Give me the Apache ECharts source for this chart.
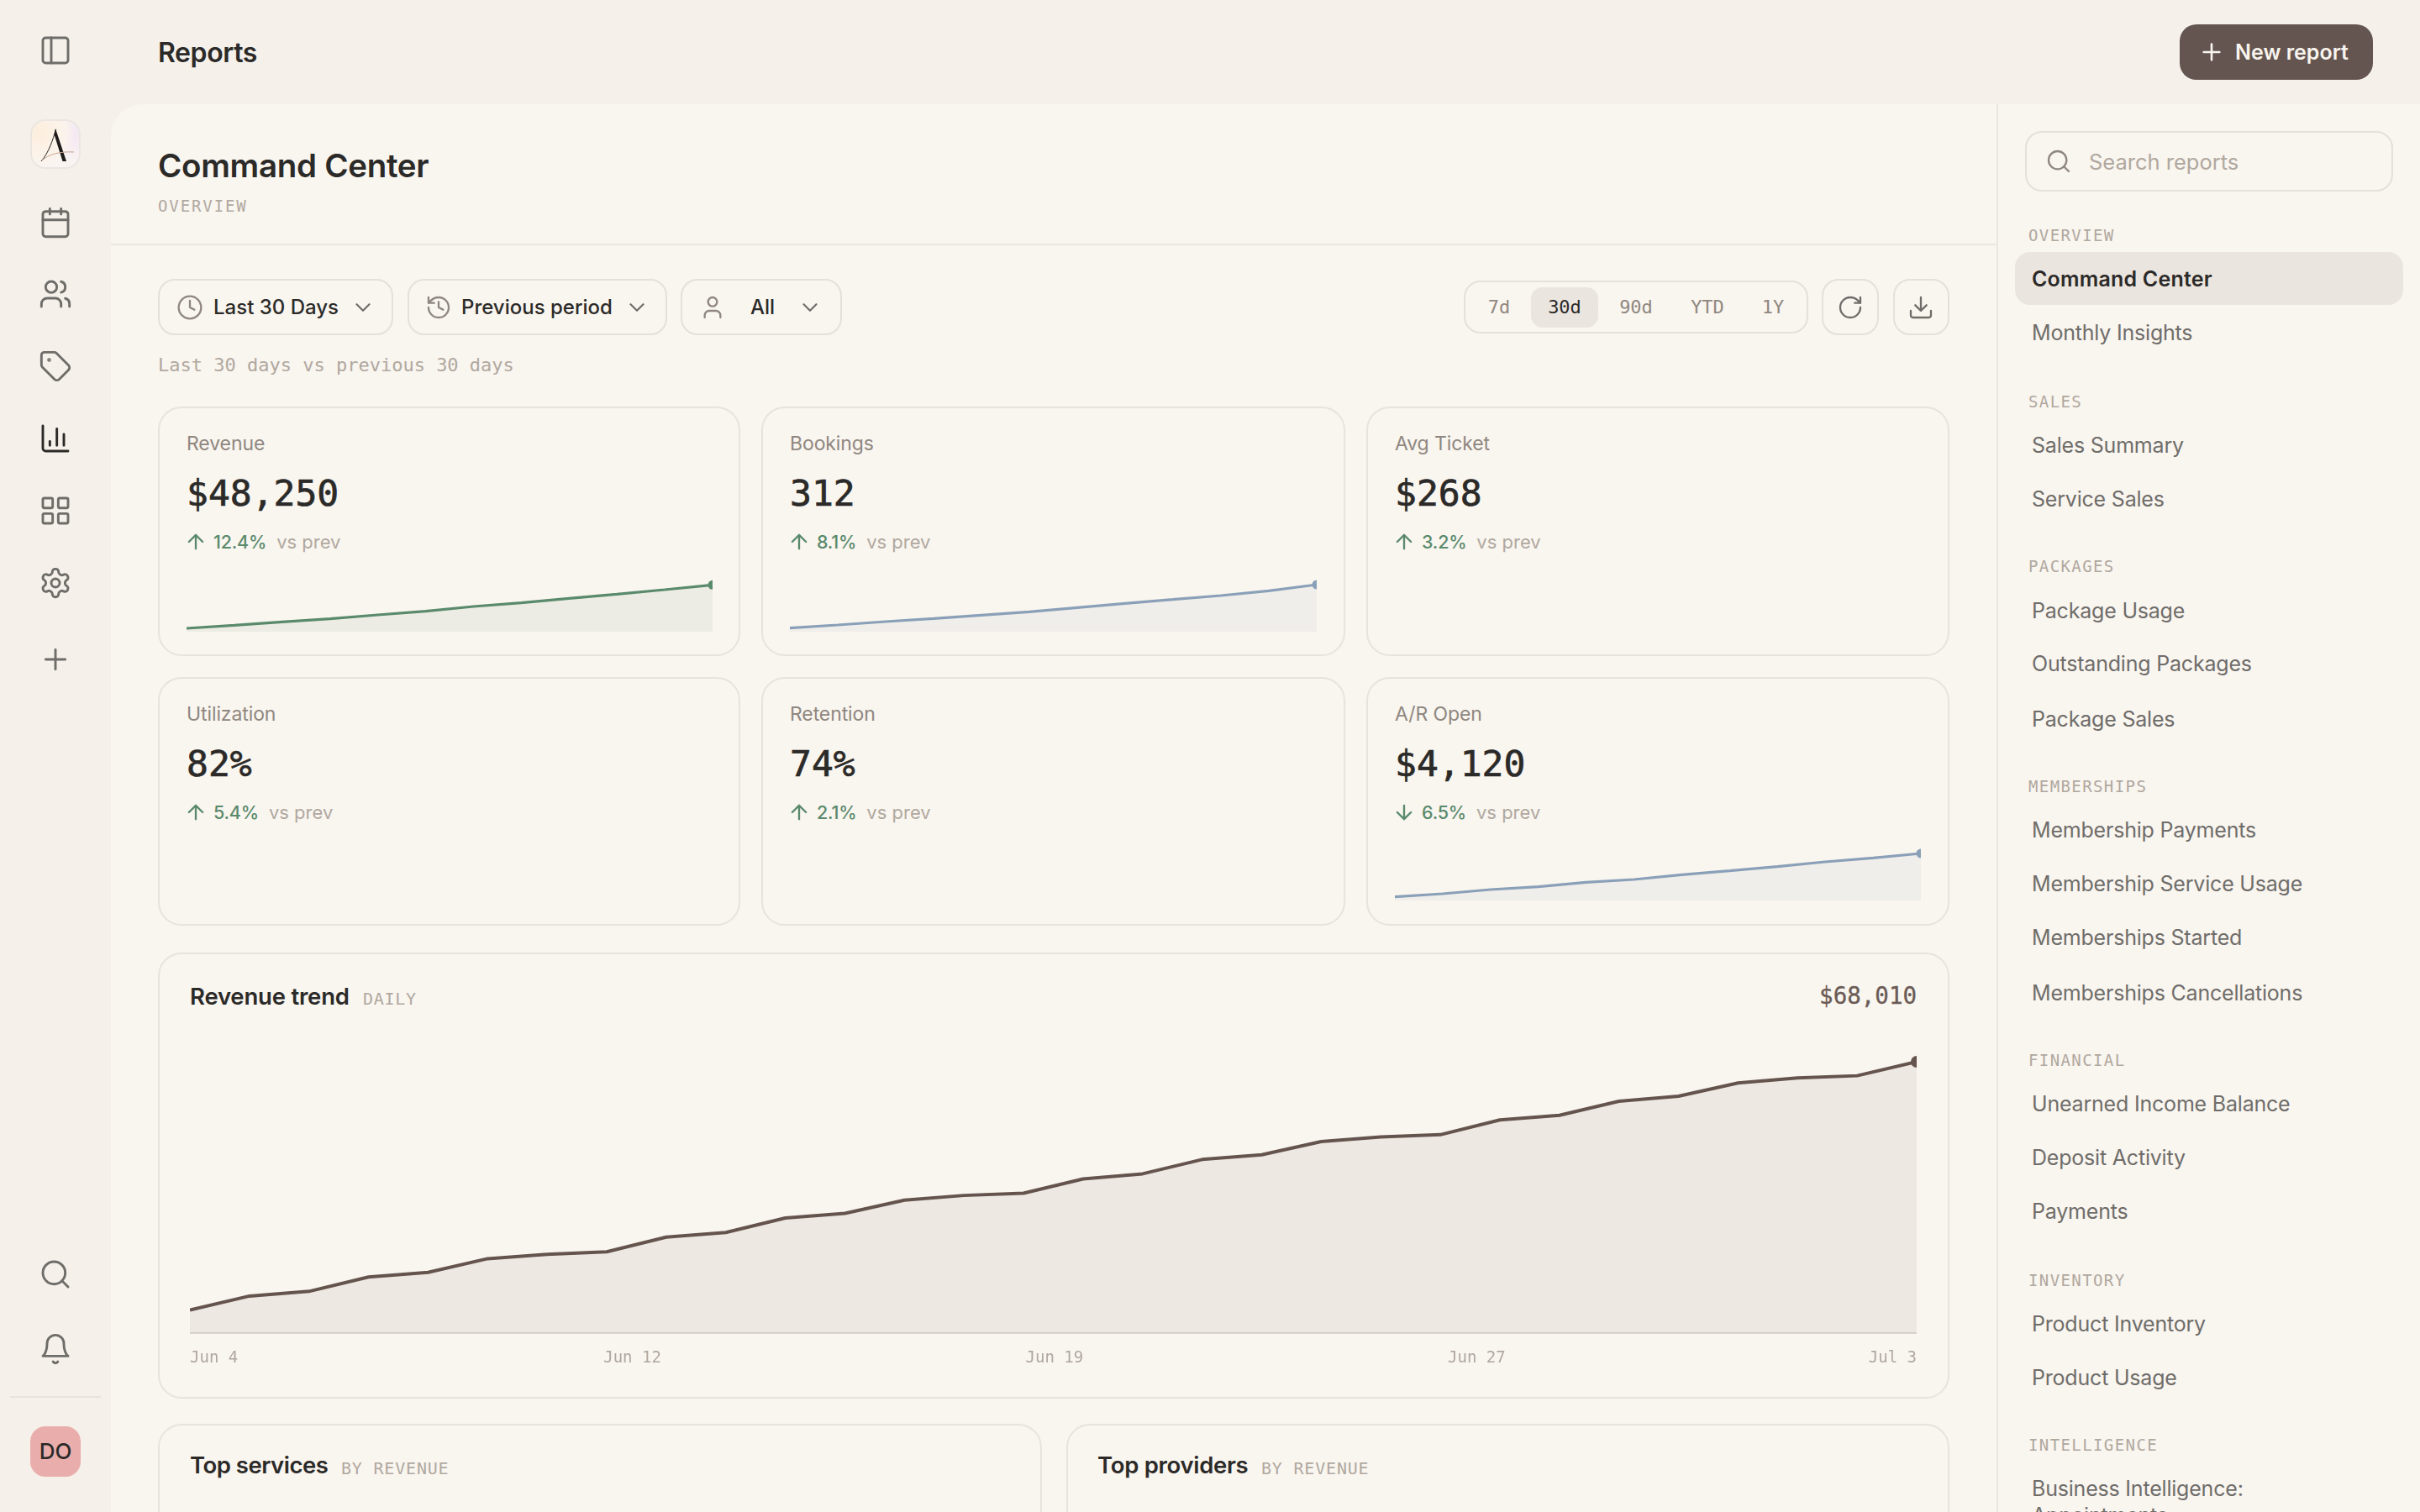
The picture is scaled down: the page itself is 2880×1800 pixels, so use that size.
<!DOCTYPE html>
<html>
<head>
<meta charset="utf-8">
<title>Reports</title>
<script src="https://cdn.jsdelivr.net/npm/echarts@6/dist/echarts.min.js"></script>
<style>
html,body{margin:0;padding:0;width:2880px;height:1800px;overflow:hidden;background:#f5f1ea;}
body{position:relative;font-family:Inter,"Noto Sans",sans-serif;color:#2b2a28;}
.box{position:absolute;box-sizing:border-box;}
.t{position:absolute;white-space:nowrap;line-height:1;transform:translateY(-50%);}
.m{font-family:"DejaVu Sans Mono",monospace;}
.i{position:absolute;fill:none;stroke:currentColor;stroke-linecap:round;stroke-linejoin:round;transform:translate(-50%,-50%);}
.card{border:2px solid #e8e3dc;border-radius:28px;}
.btn{border:2px solid #e5e0d9;border-radius:20px;}
.chart{position:absolute;}
</style>
</head>
<body>
<div class="box" id="panel" style="left:132px;top:124px;width:2748px;height:1676px;background:#f9f5ef;border-top-left-radius:38px;"></div>
<div class="box" style="left:132px;top:290px;width:2245px;height:2px;background:#ebe6df;"></div>
<div class="box" style="left:2376px;top:124px;width:2px;height:1676px;background:#ebe6df;"></div>
<div class="box" style="left:12px;top:1662px;width:108px;height:2px;background:#e8e3dc;"></div>
<div class="box" style="left:36px;top:142px;width:60px;height:59px;border-radius:18px;border:2px solid #ebe6e2;background:radial-gradient(circle at 15% 25%,#fdeedd 0,#fbf4ec 50%,transparent 70%),radial-gradient(circle at 85% 25%,#f3e6f3 0,#f9f3f2 55%);"></div>
<svg class="box" style="left:36px;top:142px;width:60px;height:59px;" viewBox="0 0 60 59">
  <path d="M13 50 C22 40 27 24 30.5 12" fill="none" stroke="#2a2624" stroke-width="1"/>
  <path d="M30 11 L43 50 L38.5 50 L28.5 18 Z" fill="#1f1b1a"/>
  <path d="M14 49 C22 42 34 38 52 39" fill="none" stroke="#c9a48e" stroke-width="1"/>
</svg>
<div class="box" style="left:36px;top:1698px;width:60px;height:60px;border-radius:18px;background:#e9aeab;"></div>
<div class="box" style="left:2594px;top:29px;width:230px;height:66px;border-radius:20px;background:#655550;"></div>
<div class="box" style="left:2410px;top:156px;width:438px;height:72px;border-radius:20px;border:2px solid #e5e0d9;"></div>
<div class="box" style="left:2398px;top:300px;width:462px;height:63px;border-radius:18px;background:#ebe5df;"></div>
<div class="box btn" style="left:188px;top:332px;width:280px;height:67px;"></div>
<div class="box btn" style="left:485px;top:332px;width:309px;height:67px;"></div>
<div class="box btn" style="left:810px;top:332px;width:192px;height:67px;"></div>
<div class="box btn" style="left:1742px;top:334px;width:410px;height:63px;"></div>
<div class="box" style="left:1822px;top:342px;width:80px;height:48px;border-radius:14px;background:#ebe5df;"></div>
<div class="box btn" style="left:2168px;top:332px;width:68px;height:67px;"></div>
<div class="box btn" style="left:2253px;top:332px;width:67px;height:67px;"></div>
<div class="box card" style="left:188px;top:1134px;width:2132px;height:531px;"></div>
<div class="box card" style="left:188px;top:1695px;width:1052px;height:200px;"></div>
<div class="box card" style="left:1269px;top:1695px;width:1051px;height:200px;"></div>
<div id="ui"></div>
<div class="chart" id="sparkRevenue" style="left:222px;top:682px;width:626px;height:70px;"></div>
<div class="chart" id="sparkBookings" style="left:940px;top:682px;width:627px;height:70px;"></div>
<div class="chart" id="sparkOpen" style="left:1660px;top:1002px;width:626px;height:70px;"></div>
<div class="chart" id="trendChart" style="left:226px;top:1207px;width:2055px;height:440px;"></div>

<script>
// kpi cards
var kpiLabels = ['Revenue', 'Bookings', 'Avg Ticket', 'Utilization', 'Retention', 'A/R Open'];
var kpiValues = ['$48,250', '312', '$268', '82%', '74%', '$4,120'];
var kpiDeltas = ['12.4%', '8.1%', '3.2%', '5.4%', '2.1%', '6.5%'];
var kpiDirs = ['up', 'up', 'up', 'up', 'up', 'down'];

// sparklines, values
var sparkDays = ['1', '2', '3', '4', '5', '6', '7', '8', '9', '10', '11', '12'];
var revenueSpark = [4, 7.7, 11.7, 15.4, 20, 24.4, 30, 34.4, 39.7, 44.7, 50, 55.7];
var bookingsSpark = [4.3, 8, 12, 15.7, 19.7, 23.7, 28.7, 33.7, 38.3, 43, 48.7, 56];
var openSpark = [4.3, 8, 13, 16.3, 21.7, 25, 30.7, 35.3, 40.3, 46, 50.7, 56];

// revenue trend, Jun 4 .. Jul 3
var trendValues = [5770, 9280, 10450, 14050, 15220, 18650, 19730, 20360, 24050, 25220,
    28830, 30000, 33330, 34500, 35040, 38640, 39910, 43510, 44680, 48010,
    49180, 49720, 53420, 54590, 58100, 59360, 62700, 63960, 64500, 68010];
var trendMax = 80000;
var tickLabels = ['Jun 4', 'Jun 12', 'Jun 19', 'Jun 27', 'Jul 3'];
var tickDays = [0, 7.43, 14.52, 21.61, 29];

// right hand report list
var navGroups = ['OVERVIEW', 'SALES', 'PACKAGES', 'MEMBERSHIPS', 'FINANCIAL', 'INVENTORY', 'INTELLIGENCE'];
var navItems = [
    ['Command Center', 'Monthly Insights'],
    ['Sales Summary', 'Service Sales'],
    ['Package Usage', 'Outstanding Packages', 'Package Sales'],
    ['Membership Payments', 'Membership Service Usage', 'Memberships Started', 'Memberships Cancellations'],
    ['Unearned Income Balance', 'Deposit Activity', 'Payments'],
    ['Product Inventory', 'Product Usage'],
    ['Business Intelligence:', 'Appointments']
];
var navGroupY = [280, 478, 674, 936, 1262, 1524, 1720];
var navItemY = [[332, 396], [530, 594], [727, 790, 856], [988, 1052, 1116, 1182], [1314, 1378, 1442], [1576, 1640], [1772, 1804]];

var rangeLabels = ['7d', '30d', '90d', 'YTD', '1Y'];
var rangeX = [1784, 1862, 1947, 2032, 2110];

var icons = {
    panel: '<rect x="3" y="3" width="18" height="18" rx="2"/><path d="M9 3v18"/>',
    calendar: '<rect x="3" y="4" width="18" height="18" rx="2"/><path d="M16 2v4M8 2v4M3 10h18"/>',
    users: '<path d="M16 21v-2a4 4 0 0 0-4-4H6a4 4 0 0 0-4 4v2"/><circle cx="9" cy="7" r="4"/><path d="M22 21v-2a4 4 0 0 0-3-3.87M16 3.13a4 4 0 0 1 0 7.75"/>',
    tag: '<path d="M12.586 2.586A2 2 0 0 0 11.172 2H4a2 2 0 0 0-2 2v7.172a2 2 0 0 0 .586 1.414l8.704 8.704a2.426 2.426 0 0 0 3.42 0l6.58-6.58a2.426 2.426 0 0 0 0-3.42z"/><circle cx="7.5" cy="7.5" r=".5"/>',
    bars: '<path d="M3 3v16a2 2 0 0 0 2 2h16M18 17V9M13 17V5M8 17v-3"/>',
    grid: '<rect x="3" y="3" width="7" height="7" rx="1"/><rect x="14" y="3" width="7" height="7" rx="1"/><rect x="14" y="14" width="7" height="7" rx="1"/><rect x="3" y="14" width="7" height="7" rx="1"/>',
    gear: '<path d="M12.22 2h-.44a2 2 0 0 0-2 2v.18a2 2 0 0 1-1 1.73l-.43.25a2 2 0 0 1-2 0l-.15-.08a2 2 0 0 0-2.73.73l-.22.38a2 2 0 0 0 .73 2.73l.15.1a2 2 0 0 1 1 1.72v.51a2 2 0 0 1-1 1.74l-.15.09a2 2 0 0 0-.73 2.73l.22.38a2 2 0 0 0 2.73.73l.15-.08a2 2 0 0 1 2 0l.43.25a2 2 0 0 1 1 1.73V20a2 2 0 0 0 2 2h.44a2 2 0 0 0 2-2v-.18a2 2 0 0 1 1-1.73l.43-.25a2 2 0 0 1 2 0l.15.08a2 2 0 0 0 2.73-.73l.22-.39a2 2 0 0 0-.73-2.73l-.15-.08a2 2 0 0 1-1-1.74v-.5a2 2 0 0 1 1-1.74l.15-.09a2 2 0 0 0 .73-2.73l-.22-.38a2 2 0 0 0-2.73-.73l-.15.08a2 2 0 0 1-2 0l-.43-.25a2 2 0 0 1-1-1.73V4a2 2 0 0 0-2-2z"/><circle cx="12" cy="12" r="3"/>',
    plus: '<path d="M5 12h14M12 5v14"/>',
    search: '<circle cx="11" cy="11" r="8"/><path d="m21 21-4.3-4.3"/>',
    bell: '<path d="M6 8a6 6 0 0 1 12 0c0 7 3 9 3 9H3s3-2 3-9M10.3 21a1.94 1.94 0 0 0 3.4 0"/>',
    clock: '<circle cx="12" cy="12" r="10"/><path d="M12 6v6l4 2"/>',
    history: '<path d="M3 12a9 9 0 1 0 9-9 9.75 9.75 0 0 0-6.74 2.74L3 8M3 3v5h5M12 7v5l4 2"/>',
    user: '<path d="M19 21v-2a4 4 0 0 0-4-4H9a4 4 0 0 0-4 4v2"/><circle cx="12" cy="7" r="4"/>',
    chevron: '<path d="m6 9 6 6 6-6"/>',
    refresh: '<path d="M21 12a9 9 0 1 1-9-9c2.52 0 4.93 1 6.74 2.74L21 8M21 3v5h-5"/>',
    download: '<path d="M21 15v4a2 2 0 0 1-2 2H5a2 2 0 0 1-2-2v-4M7 10l5 5 5-5M12 15V3"/>',
    up: '<path d="m5 12 7-7 7 7M12 19V5"/>',
    down: '<path d="M12 5v14M19 12l-7 7-7-7"/>'
};

var ui = document.getElementById('ui');

function text(s, x, y, size, color, weight, extra) {
    var d = document.createElement('div');
    d.className = 't' + (extra && extra.mono ? ' m' : '');
    d.textContent = s;
    d.style.left = x + 'px';
    d.style.top = y + 'px';
    d.style.fontSize = size + 'px';
    d.style.color = color;
    d.style.fontWeight = weight || 400;
    if (extra && extra.ls) d.style.letterSpacing = extra.ls + 'px';
    if (extra && extra.stroke) d.style.webkitTextStroke = extra.stroke + 'px ' + color;
    if (extra && extra.center) d.style.transform = 'translate(-50%,-50%)';
    if (extra && extra.right) d.style.transform = 'translate(-100%,-50%)';
    ui.appendChild(d);
    return d;
}

function icon(name, x, y, size, color, sw) {
    var s = '<svg class="i" viewBox="0 0 24 24" width="' + size + '" height="' + size + '" style="left:' + x + 'px;top:' + y +
        'px;color:' + color + ';stroke-width:' + (sw || 1.75) + '">' + icons[name] + '</svg>';
    ui.insertAdjacentHTML('beforeend', s);
}

var dark = '#2b2a28', grey = '#6f6d6a', soft = '#8f8780', faint = '#b0a89f', green = '#5a8a6c';

// left rail
var railIcons = [['panel', 60], ['calendar', 265], ['users', 350], ['tag', 436], ['bars', 522], ['grid', 608], ['gear', 694], ['plus', 785], ['search', 1517], ['bell', 1606]];
railIcons.forEach(function (r) { icon(r[0], 66, r[1], 40, r[0] == 'bars' ? dark : grey); });
text('DO', 66, 1728, 26, dark, 500, { center: true });

// header
text('Reports', 188, 63, 32, dark, 600, { ls: -0.4 });
icon('plus', 2632, 62, 32, '#f8f4ee', 2);
text('New report', 2660, 62, 25, '#f8f4ee', 600);
text('Command Center', 188, 197, 38.5, dark, 600, { ls: -0.3 });
text('OVERVIEW', 188, 245, 19, faint, 400, { mono: true, ls: 1.9 });

// filters
icon('clock', 226, 366, 32, soft);
text('Last 30 Days', 254, 366, 24, dark, 500);
icon('chevron', 432, 366, 30, grey);
icon('history', 522, 366, 32, soft);
text('Previous period', 549, 366, 24, dark, 500);
icon('chevron', 758, 366, 30, grey);
icon('user', 848, 366, 32, soft);
text('All', 893, 366, 24, dark, 500);
icon('chevron', 964, 366, 30, grey);
text('Last 30 days vs previous 30 days', 188, 435, 22, faint, 400, { mono: true });
rangeLabels.forEach(function (r, i) {
    text(r, rangeX[i], 366, 22, i == 1 ? dark : soft, 400, { mono: true, center: true });
});
icon('refresh', 2202, 366, 32, grey);
icon('download', 2286, 366, 32, grey);

// kpi cards
var cardX = [188, 906, 1626], cardW = [693, 695, 694], cardY = [484, 806];
kpiLabels.forEach(function (lab, i) {
    var x = cardX[i % 3], y = cardY[Math.floor(i / 3)];
    var b = document.createElement('div');
    b.className = 'box card';
    b.style.cssText = 'left:' + x + 'px;top:' + y + 'px;width:' + cardW[i % 3] + 'px;height:' + (i < 3 ? 297 : 296) + 'px;';
    ui.appendChild(b);
    var px = x + 34;
    text(lab, px, y + 44, 23, soft, 400, { ls: -0.1 });
    text(kpiValues[i], px, y + 103, 43, dark, 400, { mono: true, stroke: 0.7 });
    icon(kpiDirs[i], px + 11, y + 161, 28, green, 2);
    var d = text(kpiDeltas[i], px + 32, y + 161, 21.5, green, 500, { ls: -0.2 });
    var vs = document.createElement('span');
    vs.textContent = 'vs prev';
    vs.style.cssText = 'margin-left:12px;font-weight:400;font-size:22px;letter-spacing:0;color:' + faint;
    d.appendChild(vs);
});

// big chart headers
text('Revenue trend', 226, 1187, 27.5, dark, 600, { ls: -0.2 });
text('DAILY', 432, 1189, 20, faint, 400, { mono: true, ls: 0.7 });
text('$68,010', 2281, 1186, 27.5, '#6a5a55', 400, { mono: true, right: true, stroke: 0.3 });
text('Top services', 226, 1745, 27.5, dark, 600, { ls: -0.5 });
text('BY REVENUE', 406, 1748, 20, faint, 400, { mono: true, ls: 0.8 });
text('Top providers', 1306, 1745, 27.5, dark, 600, { ls: -0.3 });
text('BY REVENUE', 1501, 1748, 20, faint, 400, { mono: true, ls: 0.8 });

// right panel
icon('search', 2450, 192, 32, soft);
text('Search reports', 2486, 193, 25.5, faint, 400);
navGroups.forEach(function (g, i) {
    text(g, 2414, navGroupY[i], 19, faint, 400, { mono: true, ls: 1.4 });
    navItems[i].forEach(function (n, j) {
        var on = i == 0 && j == 0;
        text(n, 2418, navItemY[i][j], 25, on ? dark : grey, on ? 600 : 400, { ls: on ? 0.2 : -0.2 });
    });
});

function spark(id, values, color) {
    var chart = echarts.init(document.getElementById(id));
    var last = values.length - 1;
    chart.setOption({
        animation: false,
        grid: { left: 0, right: 0, top: 0, bottom: 0, outerBoundsMode: 'none' },
        xAxis: { type: 'category', data: sparkDays, boundaryGap: false, show: false },
        yAxis: { type: 'value', min: 0, max: 70, show: false },
        series: [{
            type: 'line',
            data: values,
            symbol: 'circle',
            showAllSymbol: true,
            symbolSize: function (v, p) { return p.dataIndex == last ? 11 : 0; },
            lineStyle: { color: color, width: 3.2 },
            itemStyle: { color: color },
            areaStyle: { color: color, opacity: 0.08 }
        }]
    });
    window.addEventListener('resize', function () { chart.resize(); });
}

spark('sparkRevenue', revenueSpark, '#5a8a6c');
spark('sparkBookings', bookingsSpark, '#8aa0b8');
spark('sparkOpen', openSpark, '#8aa0b8');

var trend = echarts.init(document.getElementById('trendChart'));
trend.setOption({
    animation: false,
    grid: { left: 0, right: 0, top: 0, bottom: 60, outerBoundsMode: 'none' },
    xAxis: {
        type: 'value',
        min: 0,
        max: 29,
        splitLine: { show: false },
        axisTick: { show: false },
        axisLine: { show: true, lineStyle: { color: '#dcd6ce', width: 2 } },
        axisLabel: {
            customValues: tickDays,
            formatter: function (v) { return tickLabels[tickDays.indexOf(v)]; },
            alignMinLabel: 'left',
            alignMaxLabel: 'right',
            margin: 21,
            fontFamily: 'DejaVu Sans Mono',
            fontSize: 19,
            color: '#b0a89f'
        }
    },
    yAxis: { type: 'value', min: 0, max: trendMax, show: false },
    series: [{
        type: 'line',
        data: trendValues.map(function (v, i) { return [i, v]; }),
        symbol: 'circle',
        symbolSize: function (v, p) { return p.dataIndex == trendValues.length - 1 ? 14 : 0; },
        lineStyle: { color: '#65544e', width: 4 },
        itemStyle: { color: '#65544e' },
        areaStyle: { color: '#65544e', opacity: 0.075 }
    }]
});
window.addEventListener('resize', function () { trend.resize(); });
</script>
</body>
</html>
